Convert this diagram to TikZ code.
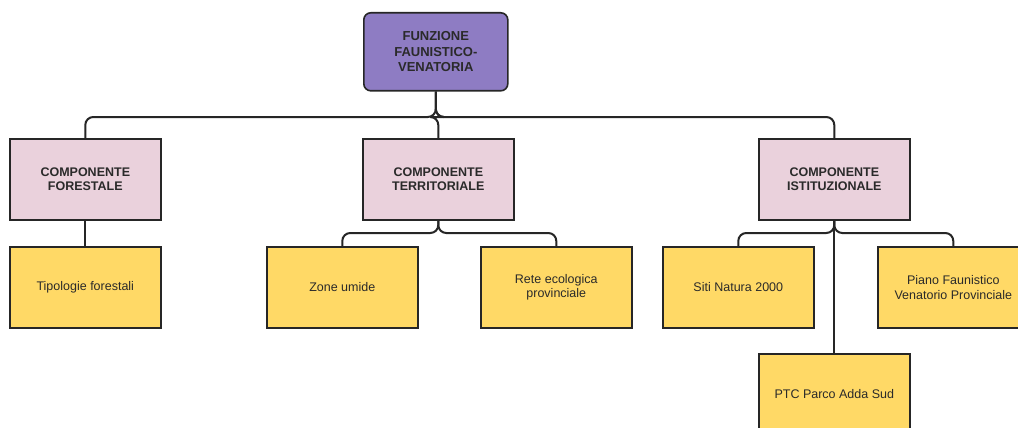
\documentclass[tikz,border=0pt]{standalone}
\usepackage{fontspec}
\setmainfont{Liberation Sans}
\begin{document}
\definecolor{rootfill}{HTML}{8E7CC3}
\definecolor{compfill}{HTML}{EAD1DC}
\definecolor{leaffill}{HTML}{FFD966}
\definecolor{edge}{HTML}{262626}
\definecolor{ink}{HTML}{2A2A2A}
\begin{tikzpicture}[x=1pt,y=-1pt,
  box/.style={draw=edge,line width=1.6pt,anchor=north west,text=ink,
    minimum width=151pt,minimum height=81pt,inner sep=2pt,align=center,
    font=\fontsize{12.5}{14.5}\selectfont},
  rootbox/.style={box,fill=rootfill,rounded corners=7pt,minimum width=144pt,
    minimum height=78pt,font=\bfseries\fontsize{13}{15.5}\selectfont},
  compbox/.style={box,fill=compfill,font=\bfseries\fontsize{12.5}{14.5}\selectfont},
  leafbox/.style={box,fill=leaffill},
  conn/.style={draw=edge,line width=2pt,rounded corners=8pt}]
\useasboundingbox (0,0) rectangle (1018,428);
\clip (0,0) rectangle (1018,428);
\fill[white] (0,0) rectangle (1018,428);

% root
\node[rootbox] (root) at (363,12) {FUNZIONE\\FAUNISTICO-\\VENATORIA};

% components
\node[compbox] (forest) at (9,138) {COMPONENTE\\FORESTALE};
\node[compbox] (territ) at (362,138) {COMPONENTE\\TERRITORIALE};
\node[compbox] (istit) at (758,138) {COMPONENTE\\ISTITUZIONALE};

% leaves
\node[leafbox] (tipol) at (9,246) {Tipologie forestali};
\node[leafbox] (zone) at (266,246) {Zone umide};
\node[leafbox] (rete) at (480,246) {Rete ecologica\\provinciale};
\node[leafbox] (siti) at (662,246) {Siti Natura 2000};
\node[leafbox] (piano) at (877,246) {Piano Faunistico\\Venatorio Provinciale};
\node[leafbox] (ptc) at (758,353) {PTC Parco Adda Sud};

% bus levels
\coordinate (busA) at (0,117);
\coordinate (busB) at (0,233);

% root to components
\draw[conn] (root.south) -- (root.south |- busA) -- (forest.north |- busA) -- (forest.north);
\draw[conn] (root.south) -- (root.south |- busA) -- (territ.north |- busA) -- (territ.north);
\draw[conn] (root.south) -- (root.south |- busA) -- (istit.north |- busA) -- (istit.north);

% components to leaves
\draw[conn] (forest.south) -- (tipol.north);
\draw[conn] (territ.south) -- (territ.south |- busB) -- (zone.north |- busB) -- (zone.north);
\draw[conn] (territ.south) -- (territ.south |- busB) -- (rete.north |- busB) -- (rete.north);
\draw[conn] (istit.south) -- (istit.south |- busB) -- (siti.north |- busB) -- (siti.north);
\draw[conn] (istit.south) -- (istit.south |- busB) -- (piano.north |- busB) -- (piano.north);
\draw[conn] (istit.south) -- (ptc.north);
\end{tikzpicture}
\end{document}
